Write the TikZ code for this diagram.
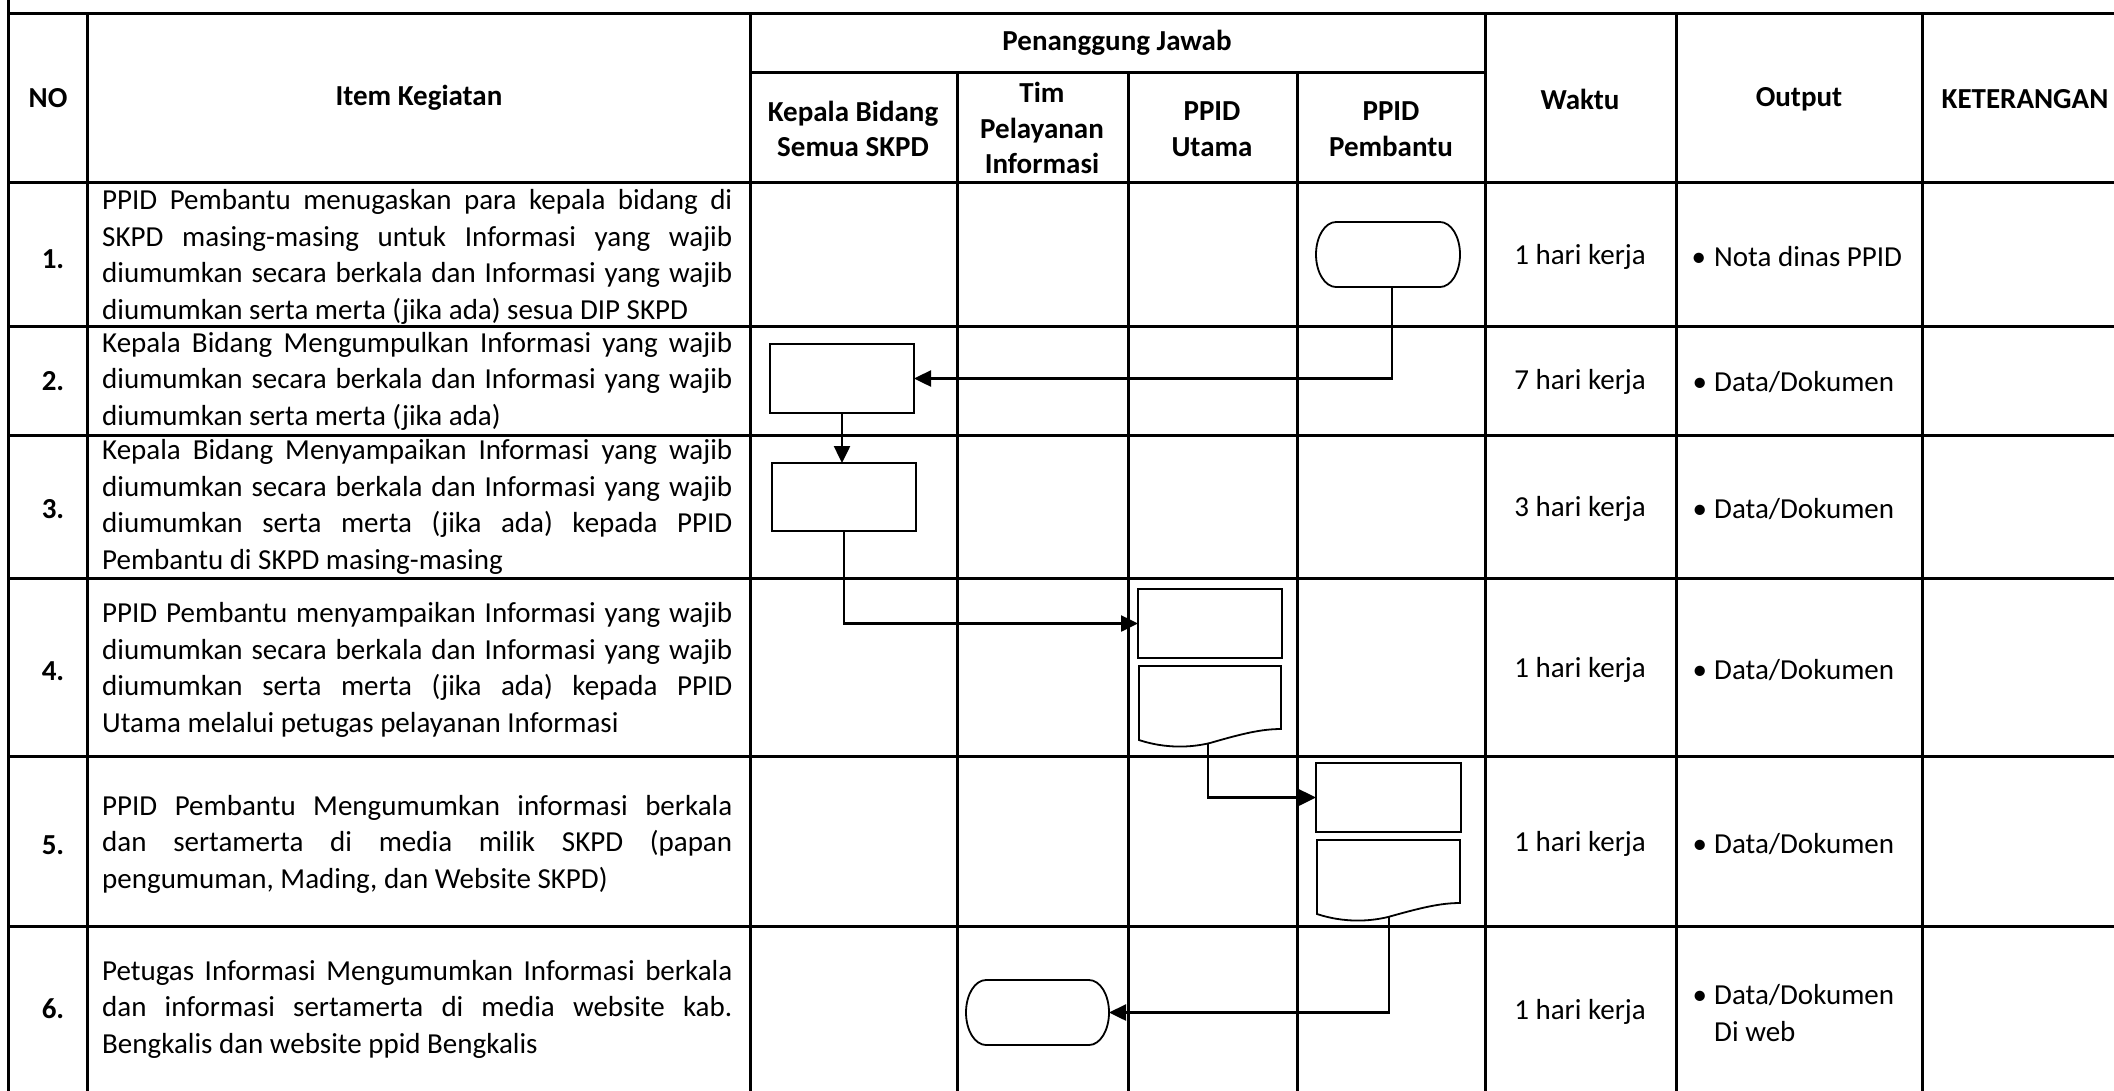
\documentclass[tikz,border=0pt]{standalone}
\usepackage{fontspec}
\setmainfont{Carlito}
\usetikzlibrary{arrows.meta}
\tolerance=9999 \hbadness=10000 \hfuzz=20pt
\hyphenpenalty=10000 \exhyphenpenalty=10000
\newcommand\termpath[1]{\draw[line width=1.8pt] ([xshift=20pt]#1.north west) -- ([xshift=-20pt]#1.north east) arc[start angle=90,end angle=-90,x radius=20pt,y radius=32.5pt] -- ([xshift=20pt]#1.south west) arc[start angle=270,end angle=90,x radius=20pt,y radius=32.5pt] -- cycle;}
\newcommand\docpath[1]{\draw[line width=1.8pt] (#1.south west) -- (#1.north west) -- (#1.north east) -- ([yshift=11pt]#1.south east) .. controls ([shift={(-20pt,11pt)}]#1.south east) and ([shift={(-40pt,6pt)}]#1.south east) .. ([shift={(71pt,-3pt)}]#1.south west) .. controls ([shift={(46pt,-9pt)}]#1.south west) and ([shift={(21pt,-7pt)}]#1.south west) .. (#1.south west) -- cycle;}
\begin{document}
\begin{tikzpicture}[x=1pt,y=-1pt,
  grid/.style={line width=3pt},
  proc/.style={draw, line width=1.8pt, rectangle, inner sep=0pt, outer sep=0pt, minimum width=144pt, minimum height=69pt},
  ghost/.style={rectangle, inner sep=0pt, outer sep=0pt},
  conn/.style={line width=2.5pt, -{Triangle[length=17pt,width=16pt]}},
  txt/.style={font=\fontsize{29}{36.5}\selectfont, inner sep=0pt},
  hdr/.style={font=\fontsize{29}{35.5}\selectfont\bfseries, inner sep=0pt, align=center},
  item/.style={txt, text width=630pt, align=justify, anchor=west},
  outp/.style={txt, anchor=west, align=left},
  num/.style={font=\fontsize{29}{35}\selectfont\bfseries, inner sep=0pt}
]
\useasboundingbox (0,0) rectangle (2114,1090);
\fill[white] (0,0) rectangle (2114,1090);
% table grid
\draw[grid] (8,-5) -- (8,1100);
\draw[grid] (8,13) -- (2140,13);
\draw[grid] (750,72) -- (1485,72);
\foreach \y in {182,326,435,578,756,926} \draw[grid] (8,\y) -- (2140,\y);
\foreach \x in {87,750,1485,1676,1922} \draw[grid] (\x,13) -- (\x,1100);
\foreach \x in {957,1128,1297} \draw[grid] (\x,72) -- (\x,1100);
% headers
\node[hdr] (hNo) at (48,98) {NO};
\node[hdr] (hItem) at (419,98) {Item Kegiatan};
\node[hdr] (hPJ) at (1117,43) {Penanggung Jawab};
\node[hdr] (hKB) at (853,129) {Kepala Bidang\\Semua SKPD};
\node[hdr] (hTim) at (1042,128) {Tim\\Pelayanan\\Informasi};
\node[hdr] (hPU) at (1212,129) {PPID\\Utama};
\node[hdr] (hPP) at (1391,129) {PPID\\Pembantu};
\node[hdr] (hW) at (1580,99) {Waktu};
\node[hdr] (hO) at (1799,99) {Output};
\node[hdr] (hK) at (2025,99) {KETERANGAN};
% numbers
\node[num] (n1) at (53,259) {1.};
\node[num] (n2) at (53,381) {2.};
\node[num] (n3) at (53,509) {3.};
\node[num] (n4) at (53,671) {4.};
\node[num] (n5) at (53,845) {5.};
\node[num] (n6) at (53,1009) {6.};
% item texts
\node[item] (i1) at (102,257) {PPID Pembantu menugaskan para kepala bidang di\linebreak SKPD masing-masing untuk Informasi yang wajib\linebreak diumumkan secara berkala dan Informasi yang wajib\linebreak diumumkan serta merta (jika ada) sesua DIP SKPD};
\node[item] (i2) at (102,381) {Kepala Bidang Mengumpulkan Informasi yang wajib\linebreak diumumkan secara berkala dan Informasi yang wajib\linebreak diumumkan serta merta (jika ada)};
\node[item] (i3) at (102,507) {Kepala Bidang Menyampaikan Informasi yang wajib\linebreak diumumkan secara berkala dan Informasi yang wajib\linebreak diumumkan serta merta (jika ada) kepada PPID\linebreak Pembantu di SKPD masing-masing};
\node[item] (i4) at (102,670) {PPID Pembantu menyampaikan Informasi yang wajib\linebreak diumumkan secara berkala dan Informasi yang wajib\linebreak diumumkan serta merta (jika ada) kepada PPID\linebreak Utama melalui petugas pelayanan Informasi};
\node[item] (i5) at (102,844) {PPID Pembantu Mengumumkan informasi berkala\linebreak dan sertamerta di media milik SKPD (papan\linebreak pengumuman, Mading, dan Website SKPD)};
\node[item] (i6) at (102,1009) {Petugas Informasi Mengumumkan Informasi berkala\linebreak dan informasi sertamerta di media website kab.\linebreak Bengkalis dan website ppid Bengkalis};
% waktu
\node[txt] (w1) at (1580,257) {1 hari kerja};
\node[txt] (w2) at (1580,382) {7 hari kerja};
\node[txt] (w3) at (1580,509) {3 hari kerja};
\node[txt] (w4) at (1580,670) {1 hari kerja};
\node[txt] (w5) at (1580,844) {1 hari kerja};
\node[txt] (w6) at (1580,1012) {1 hari kerja};
% output
\node[outp] (o1) at (1714,257) {\llap{\makebox[31pt]{•}}Nota dinas PPID};
\node[outp] (o2) at (1714,382) {\llap{\makebox[29pt]{•}}Data/Dokumen};
\node[outp] (o3) at (1714,509) {\llap{\makebox[29pt]{•}}Data/Dokumen};
\node[outp] (o4) at (1714,670) {\llap{\makebox[29pt]{•}}Data/Dokumen};
\node[outp] (o5) at (1714,844) {\llap{\makebox[29pt]{•}}Data/Dokumen};
\node[outp] (o6) at (1714,1013) {\llap{\makebox[29pt]{•}}Data/Dokumen\\Di web};
% flowchart shapes
\node[ghost, minimum width=144pt, minimum height=65pt] (T1) at (1388,254.5) {};
\termpath{T1}
\node[proc] (B2) at (842,378.5) {};
\node[proc, minimum height=68pt] (B3) at (844,497) {};
\node[proc] (B4) at (1210,623.5) {};
\node[ghost, minimum width=142pt, minimum height=74pt] (D4) at (1210,703) {};
\docpath{D4}
\node[proc, minimum width=145pt] (B5) at (1388.5,797.5) {};
\node[ghost, minimum width=143pt, minimum height=74pt] (D5) at (1388.5,877) {};
\docpath{D5}
\node[ghost, minimum width=143pt, minimum height=65pt] (T6) at (1037.5,1012.5) {};
\termpath{T6}
% connectors
\coordinate (T1b) at ([xshift=4pt]T1.south);
\draw[conn] (T1b) |- (B2.east);
\draw[conn] (B2.south) -- (B2.south |- B3.north);
\draw[conn] (B3.south) |- (B4.west);
\coordinate (D4b) at ([shift={(69pt,-3pt)}]D4.south west);
\draw[conn] (D4b) |- (B5.west);
\coordinate (D5b) at ([shift={(72pt,-3pt)}]D5.south west);
\draw[conn] (D5b) |- (T6.east);
\end{tikzpicture}
\end{document}
